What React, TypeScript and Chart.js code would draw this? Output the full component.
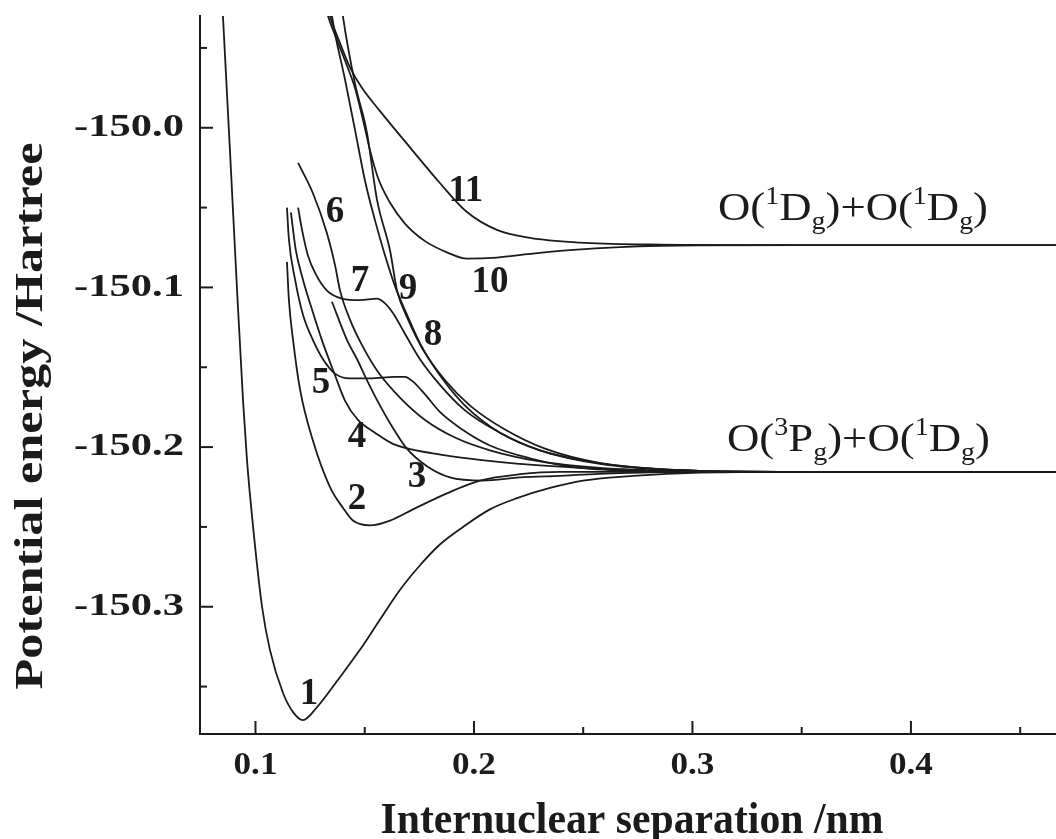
import React, { useEffect, useRef } from "react";
import { Chart, registerables } from "chart.js";

Chart.register(...registerables);

// ---- axis ranges & ticks ----
const X_MIN = 0.0746;
const X_MAX = 0.4664;
const Y_MIN = -150.3797;
const Y_MAX = -149.93;
const xMajorTicks = [0.1, 0.2, 0.3, 0.4];
const xMinorTicks = [0.15, 0.25, 0.35, 0.45];
const xTickLabels = ["0.1", "0.2", "0.3", "0.4"];
const yMajorTicks = [-150.0, -150.1, -150.2, -150.3];
const yMinorTicks = [-149.95, -150.05, -150.15, -150.25, -150.35];
const yTickLabels = ["-150.0", "-150.1", "-150.2", "-150.3"];
const xTitle = "Internuclear separation /nm";
const yTitle = "Potential energy /Hartree";

// ---- curves (x in nm, energy in Hartree) ----
const curve1X = [0.0847, 0.0851, 0.0883, 0.0915, 0.0943, 0.0961, 0.0989, 0.103, 0.1066, 0.1126, 0.1172, 0.1217, 0.1281, 0.1387, 0.1478, 0.157, 0.1661, 0.1753, 0.1844, 0.195, 0.2073, 0.2197, 0.2348, 0.2499, 0.2728, 0.3034, 0.3492, 0.4664];
const curve1Y = [-149.92, -149.93, -150.014, -150.1, -150.171, -150.208, -150.25, -150.3, -150.327, -150.354, -150.366, -150.371, -150.363, -150.344, -150.327, -150.308, -150.2895, -150.274, -150.261, -150.25, -150.239, -150.232, -150.2256, -150.221, -150.218, -150.216, -150.2155, -150.2155];

const curve2X = [0.1144, 0.1153, 0.1172, 0.1204, 0.1263, 0.1341, 0.14, 0.1446, 0.1524, 0.1616, 0.1721, 0.1876, 0.2027, 0.2211, 0.2394, 0.4664];
const curve2Y = [-150.084, -150.108, -150.133, -150.164, -150.196, -150.225, -150.238, -150.246, -150.249, -150.246, -150.239, -150.229, -150.221, -150.217, -150.2155, -150.2155];

const curve3X = [0.135, 0.1419, 0.1465, 0.151, 0.157, 0.1629, 0.1693, 0.1785, 0.189, 0.2041, 0.2211, 0.2394, 0.2668, 0.3034, 0.4664];
const curve3Y = [-150.109, -150.133, -150.145, -150.158, -150.174, -150.188, -150.201, -150.212, -150.219, -150.221, -150.219, -150.218, -150.2163, -150.2155, -150.2155];

const curve4X = [0.1162, 0.1185, 0.1217, 0.1259, 0.1304, 0.1364, 0.141, 0.1469, 0.1547, 0.1629, 0.1812, 0.2027, 0.2256, 0.2485, 0.2806, 0.3263, 0.4664];
const curve4Y = [-150.053, -150.077, -150.095, -150.114, -150.133, -150.155, -150.171, -150.183, -150.191, -150.198, -150.204, -150.208, -150.211, -150.213, -150.215, -150.2155, -150.2155];

const curve5X = [0.1144, 0.1153, 0.1181, 0.1217, 0.1263, 0.1309, 0.1364, 0.1432, 0.1524, 0.1638, 0.1684, 0.1721, 0.1776, 0.1844, 0.1936, 0.2073, 0.2256, 0.2485, 0.2806, 0.3263, 0.4664];
const curve5Y = [-150.05, -150.07, -150.095, -150.117, -150.133, -150.145, -150.154, -150.157, -150.157, -150.156, -150.156, -150.159, -150.167, -150.178, -150.188, -150.199, -150.207, -150.213, -150.215, -150.2155, -150.2155];

const curve6X = [0.1195, 0.1263, 0.1327, 0.1364, 0.1387, 0.1432, 0.1487, 0.1561, 0.1661, 0.1776, 0.1913, 0.2073, 0.2302, 0.2577, 0.2943, 0.34, 0.4664];
const curve6Y = [-150.022, -150.041, -150.066, -150.086, -150.102, -150.12, -150.136, -150.153, -150.169, -150.183, -150.194, -150.202, -150.209, -150.213, -150.215, -150.2155, -150.2155];

const curve7X = [0.1195, 0.1213, 0.124, 0.1277, 0.1327, 0.1396, 0.1478, 0.1556, 0.1593, 0.1629, 0.1684, 0.1753, 0.1844, 0.1959, 0.2119, 0.2302, 0.2577, 0.2943, 0.34, 0.4664];
const curve7Y = [-150.05, -150.064, -150.08, -150.092, -150.102, -150.107, -150.108, -150.107, -150.11, -150.116, -150.129, -150.145, -150.161, -150.177, -150.191, -150.202, -150.21, -150.2145, -150.2155, -150.2155];

const curve8X = [0.1341, 0.135, 0.141, 0.1455, 0.1501, 0.1547, 0.1593, 0.1638, 0.1693, 0.1753, 0.1844, 0.1959, 0.2119, 0.2302, 0.2577, 0.2943, 0.34, 0.4664];
const curve8Y = [-149.92, -149.93, -149.97, -150.001, -150.033, -150.058, -150.08, -150.099, -150.117, -150.135, -150.155, -150.174, -150.191, -150.202, -150.2105, -150.2145, -150.2155, -150.2155];

const curve9X = [0.1391, 0.14, 0.1455, 0.151, 0.1556, 0.1616, 0.1648, 0.1698, 0.1767, 0.1867, 0.1982, 0.2142, 0.2325, 0.2577, 0.2943, 0.34, 0.4664];
const curve9Y = [-149.92, -149.93, -149.972, -150.003, -150.045, -150.077, -150.102, -150.12, -150.139, -150.158, -150.174, -150.189, -150.201, -150.21, -150.2145, -150.2155, -150.2155];

const curve10X = [0.1313, 0.1332, 0.1364, 0.141, 0.1455, 0.1492, 0.1524, 0.1561, 0.1616, 0.1684, 0.1776, 0.1876, 0.1968, 0.2105, 0.2256, 0.2439, 0.2668, 0.3034, 0.3492, 0.4664];
const curve10Y = [-149.92, -149.93, -149.942, -149.958, -149.975, -149.995, -150.014, -150.0315, -150.047, -150.06, -150.071, -150.078, -150.082, -150.0813, -150.079, -150.0766, -150.0747, -150.0736, -150.0735, -150.0735];

const curve11X = [0.1323, 0.1341, 0.1387, 0.1432, 0.1487, 0.157, 0.1721, 0.1844, 0.1968, 0.2105, 0.2256, 0.2485, 0.2806, 0.3263, 0.4664];
const curve11Y = [-149.92, -149.93, -149.947, -149.962, -149.975, -149.9896, -150.0146, -150.0346, -150.0528, -150.064, -150.069, -150.0719, -150.0731, -150.0735, -150.0735];

const curveNames = ["1", "2", "3", "4", "5", "6", "7", "8", "9", "10", "11"];
const curveXs = [curve1X, curve2X, curve3X, curve4X, curve5X, curve6X, curve7X, curve8X, curve9X, curve10X, curve11X];
const curveYs = [curve1Y, curve2Y, curve3Y, curve4Y, curve5Y, curve6Y, curve7Y, curve8Y, curve9Y, curve10Y, curve11Y];

// label anchors (data coordinates, centre of number)
const curveLabelX = [0.1245, 0.1465, 0.1739, 0.1465, 0.13, 0.1364, 0.1478, 0.1812, 0.1698, 0.2073, 0.1963];
const curveLabelY = [-150.355, -150.233, -150.219, -150.194, -150.16, -150.053, -150.096, -150.13, -150.101, -150.097, -150.04];

// asymptote labels (left/baseline anchor in data coordinates)
const limitLabels = [
  { x: 0.3117, y: -150.058, parts: [["O(", "n"], ["1", "sup"], ["D", "n"], ["g", "sub"], [")+O(", "n"], ["1", "sup"], ["D", "n"], ["g", "sub"], [")", "n"]], width: 270 },
  { x: 0.3158, y: -150.2024, parts: [["O(", "n"], ["3", "sup"], ["P", "n"], ["g", "sub"], [")+O(", "n"], ["1", "sup"], ["D", "n"], ["g", "sub"], [")", "n"]], width: 263 },
];

const SERIF = '"Liberation Serif", "Times New Roman", serif';
const INK = "#1b1b1b";

function drawFit(ctx: CanvasRenderingContext2D, text: string, x: number, y: number, size: number, bold: boolean, targetW: number | null, align: CanvasTextAlign, baseline: CanvasTextBaseline, rotate = false) {
  ctx.save();
  ctx.font = `${bold ? "bold " : ""}${size}px ${SERIF}`;
  const w = ctx.measureText(text).width;
  const s = targetW ? targetW / w : 1;
  ctx.translate(x, y);
  if (rotate) ctx.rotate(-Math.PI / 2);
  ctx.scale(s, 1);
  ctx.textAlign = align;
  ctx.textBaseline = baseline;
  ctx.fillStyle = INK;
  ctx.fillText(text, 0, 0);
  ctx.restore();
}

const overlayPlugin = {
  id: "overlay",
  afterDatasetsDraw(chart: any) {
    const ctx: CanvasRenderingContext2D = chart.ctx;
    const xs = chart.scales.x;
    const ys = chart.scales.y;
    const area = chart.chartArea;
    ctx.save();
    ctx.strokeStyle = INK;
    ctx.lineWidth = 2;
    const tick = (x1: number, y1: number, x2: number, y2: number) => {
      ctx.beginPath();
      ctx.moveTo(x1, y1);
      ctx.lineTo(x2, y2);
      ctx.stroke();
    };
    xMajorTicks.forEach((v) => { const p = xs.getPixelForValue(v); tick(p, area.bottom, p, area.bottom - 13); });
    xMinorTicks.forEach((v) => { const p = xs.getPixelForValue(v); if (p < area.right) tick(p, area.bottom, p, area.bottom - 7); });
    yMajorTicks.forEach((v) => { const p = ys.getPixelForValue(v); tick(area.left, p, area.left + 13, p); });
    yMinorTicks.forEach((v) => { const p = ys.getPixelForValue(v); tick(area.left, p, area.left + 7, p); });
    ctx.restore();

    // tick labels
    xMajorTicks.forEach((v, i) => drawFit(ctx, xTickLabels[i], xs.getPixelForValue(v), area.bottom + 32, 32, true, 44, "center", "middle"));
    yMajorTicks.forEach((v, i) => drawFit(ctx, yTickLabels[i], area.left - 16, ys.getPixelForValue(v), 32, true, 110, "right", "middle"));

    // axis titles
    drawFit(ctx, xTitle, (area.left + area.right) / 2 + 4, area.bottom + 99, 44, true, 503, "center", "alphabetic");
    drawFit(ctx, yTitle, 31, (area.top + area.bottom) / 2 + 41, 41, true, 547, "center", "middle", true);

    // curve labels
    curveNames.forEach((n, i) => {
      drawFit(ctx, n, xs.getPixelForValue(curveLabelX[i]), ys.getPixelForValue(curveLabelY[i]), 37, true, null, "center", "middle");
    });

    // asymptote labels
    limitLabels.forEach((lab) => {
      const fs = 40;
      const small = 25;
      let total = 0;
      const widths: number[] = [];
      lab.parts.forEach(([t, k]) => {
        ctx.font = `${k === "n" ? fs : small}px ${SERIF}`;
        const w = ctx.measureText(t).width;
        widths.push(w);
        total += w;
      });
      const s = lab.width / total;
      let cx = xs.getPixelForValue(lab.x);
      const by = ys.getPixelForValue(lab.y);
      lab.parts.forEach(([t, k], i) => {
        ctx.save();
        ctx.font = `${k === "n" ? fs : small}px ${SERIF}`;
        ctx.fillStyle = INK;
        ctx.textAlign = "left";
        ctx.textBaseline = "alphabetic";
        const dy = k === "sup" ? -fs * 0.4 : k === "sub" ? fs * 0.22 : 0;
        ctx.translate(cx, by + dy);
        ctx.scale(s, 1);
        ctx.fillText(t, 0, 0);
        ctx.restore();
        cx += widths[i] * s;
      });
    });
  },
};

export default function App() {
  const ref = useRef<HTMLCanvasElement | null>(null);
  useEffect(() => {
    if (!ref.current) return;
    const datasets = curveNames.map((n, i) => ({
      label: n,
      data: curveXs[i].map((x, j) => ({ x, y: curveYs[i][j] })),
      borderColor: INK,
      borderWidth: 1.8,
      pointRadius: 0,
      fill: false,
      cubicInterpolationMode: "monotone" as const,
    }));
    const chart = new Chart(ref.current, {
      type: "line",
      data: { datasets },
      options: {
        animation: false,
        responsive: false,
        devicePixelRatio: 1,
        layout: { padding: { top: 16, left: 0, right: 0, bottom: 0 } },
        plugins: { legend: { display: false }, tooltip: { enabled: false } },
        scales: {
          x: {
            type: "linear",
            min: X_MIN,
            max: X_MAX,
            grid: { display: false },
            border: { display: true, color: INK, width: 2 },
            ticks: { display: false },
            afterFit: (s: any) => { s.height = 105; },
          },
          y: {
            type: "linear",
            min: Y_MIN,
            max: Y_MAX,
            grid: { display: false },
            border: { display: true, color: INK, width: 2 },
            ticks: { display: false },
            afterFit: (s: any) => { s.width = 200; },
          },
        },
      },
      plugins: [overlayPlugin],
    });
    return () => chart.destroy();
  }, []);
  return (
    <div style={{ position: "absolute", left: 0, top: 0, width: 1056, height: 839, background: "#fff" }}>
      <canvas ref={ref} width={1056} height={839} style={{ display: "block" }} />
    </div>
  );
}
